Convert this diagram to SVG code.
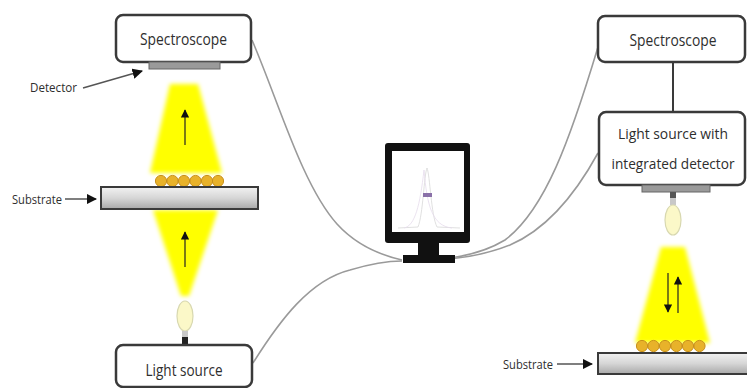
<svg xmlns="http://www.w3.org/2000/svg" width="747" height="388" viewBox="0 0 747 388">
  <style>
    .box { fill: #ffffff; stroke: #3a3a3a; stroke-width: 2.5; }
    .lbl { font-family: "Open Sans", "Liberation Sans", sans-serif; fill: #2e2e2e; text-anchor: middle; font-size: 17px; }
    .lbl2 { font-family: "Open Sans", "Liberation Sans", sans-serif; fill: #2e2e2e; text-anchor: middle; font-size: 14.5px; }
    .side { font-family: "Open Sans", "Liberation Sans", sans-serif; fill: #2e2e2e; font-size: 13.5px; }
    .cable { fill: none; stroke: #9a9a9a; stroke-width: 1.6; }
    .link { fill: none; stroke: #3a3a3a; stroke-width: 2; }
    .ptr { fill: none; stroke: #555555; stroke-width: 1.5; }
    .beam { fill: #ffff00; filter: url(#soft); }
    .plate { fill: url(#plateGrad); stroke: #3a3a3a; stroke-width: 2; }
    .det { fill: #9a9a9a; stroke: #666666; stroke-width: 1; }
    .dot { fill: #e8b22a; stroke: #c8901a; stroke-width: 1; }
    .bulb { fill: #fbf8c8; stroke: #d8d8b0; stroke-width: 1.2; }
    .flow { stroke: #222222; stroke-width: 1.2; fill: none; }
  </style>
  <defs>
    <filter id="soft" x="-20%" y="-20%" width="140%" height="140%">
      <feGaussianBlur stdDeviation="2.2"/>
    </filter>
    <linearGradient id="plateGrad" x1="0" y1="0" x2="0" y2="1">
      <stop offset="0" stop-color="#f2f2f2"/>
      <stop offset="0.5" stop-color="#d6d6d6"/>
      <stop offset="1" stop-color="#a8a8a8"/>
    </linearGradient>
    <marker id="tip" viewBox="0 0 10 10" refX="9" refY="5" markerWidth="7" markerHeight="7" orient="auto">
      <path d="M0,0 L10,5 L0,10 z" fill="#111111"/>
    </marker>
  </defs>

  <!-- light beams -->
  <g id="beams">
    <polygon class="beam" points="170,84 198,84 222,173 150,173"/>
    <polygon class="beam" points="153,210 218,210 189,296 181,296"/>
    <polygon class="beam" points="661,247 685,247 710,343 635,343"/>
  </g>

  <!-- cables to the computer -->
  <g id="connectors">
    <path class="cable" d="M252,40 C278,100 302,185 337,224 C357,246 380,255 402,260"/>
    <path class="cable" d="M253,363 C280,320 310,280 350,270 C370,264 385,261 402,261"/>
    <path class="cable" d="M598,47 C570,140 545,210 505,240 C485,252 465,256 450,258"/>
    <path class="cable" d="M598,153 C575,195 545,230 510,245 C490,253 470,257 450,259"/>
    <line class="link" x1="673" y1="62" x2="673" y2="112"/>
  </g>

  <!-- left setup: transmission -->
  <g id="spectroscope-left">
    <rect class="box" x="116" y="15" width="135" height="47" rx="7"/>
    <text class="lbl" x="183.5" y="45" textLength="87" lengthAdjust="spacingAndGlyphs">Spectroscope</text>
  </g>
  <g id="detector-left">
    <rect class="det" x="149" y="62" width="71" height="7"/>
    <text class="side" x="30" y="92" textLength="47" lengthAdjust="spacingAndGlyphs">Detector</text>
    <line class="ptr" x1="83" y1="88" x2="142" y2="71" marker-end="url(#tip)"/>
  </g>
  <g id="flow-left">
    <line class="flow" x1="185" y1="145" x2="185" y2="110" marker-end="url(#tip)"/>
    <line class="flow" x1="185" y1="267" x2="185" y2="232" marker-end="url(#tip)"/>
  </g>
  <g id="particles-left">
    <circle class="dot" cx="161" cy="181" r="5.6"/>
    <circle class="dot" cx="172.5" cy="181" r="5.6"/>
    <circle class="dot" cx="184" cy="181" r="5.6"/>
    <circle class="dot" cx="195.5" cy="181" r="5.6"/>
    <circle class="dot" cx="207" cy="181" r="5.6"/>
    <circle class="dot" cx="218" cy="181" r="5.6"/>
  </g>
  <g id="substrate-left">
    <rect class="plate" x="101" y="187" width="157" height="22"/>
    <text class="side" x="12" y="204" textLength="50" lengthAdjust="spacingAndGlyphs">Substrate</text>
    <line class="ptr" x1="65" y1="199" x2="96" y2="199" marker-end="url(#tip)"/>
  </g>
  <g id="bulb-left">
    <ellipse class="bulb" cx="185" cy="316" rx="8" ry="15"/>
    <rect x="182" y="331" width="6" height="6" fill="#c8c8c8"/>
    <rect x="182" y="337" width="6" height="8" fill="#222222"/>
  </g>
  <g id="light-source">
    <rect class="box" x="116" y="345" width="136" height="42" rx="7"/>
    <text class="lbl" x="184" y="376" textLength="77" lengthAdjust="spacingAndGlyphs">Light source</text>
  </g>

  <!-- computer -->
  <g id="computer">
    <rect x="385" y="143" width="85" height="100" rx="3" fill="#111111"/>
    <rect x="392" y="151" width="72" height="81" fill="#ffffff"/>
    <rect x="418" y="242" width="21" height="14" fill="#111111"/>
    <rect x="403" y="255" width="52" height="8" fill="#111111"/>
    <path d="M398,228 L418,227 C423,215 424,175 427,168 C430,175 431,215 437,227 L460,228" fill="none" stroke="#d8d8d8" stroke-width="0.8"/>
    <path d="M404,228 C415,226 420,205 424,170 C427,205 432,226 452,228" fill="none" stroke="#e6dcec" stroke-width="0.8"/>
    <rect x="423" y="193" width="9" height="4" fill="#8a70a8"/>
  </g>

  <!-- right setup: reflection -->
  <g id="spectroscope-right">
    <rect class="box" x="598" y="16" width="147" height="46" rx="7"/>
    <text class="lbl" x="673" y="46" textLength="87" lengthAdjust="spacingAndGlyphs">Spectroscope</text>
  </g>
  <g id="light-source-detector">
    <rect class="box" x="599" y="112" width="146" height="73" rx="7"/>
    <text class="lbl2" x="673" y="139" textLength="110" lengthAdjust="spacingAndGlyphs">Light source with</text>
    <text class="lbl2" x="673" y="169" textLength="123" lengthAdjust="spacingAndGlyphs">integrated detector</text>
    <rect class="det" x="642" y="185" width="68" height="7"/>
  </g>
  <g id="bulb-right">
    <rect x="670" y="192" width="6" height="6" fill="#555555"/>
    <rect x="670" y="198" width="6" height="7" fill="#c8c8c8"/>
    <ellipse class="bulb" cx="673" cy="220" rx="8" ry="15"/>
  </g>
  <g id="flow-right">
    <line class="flow" x1="668" y1="273" x2="668" y2="312" marker-end="url(#tip)"/>
    <line class="flow" x1="678" y1="313" x2="678" y2="277" marker-end="url(#tip)"/>
  </g>
  <g id="particles-right">
    <circle class="dot" cx="642" cy="346" r="5.6"/>
    <circle class="dot" cx="653.5" cy="346" r="5.6"/>
    <circle class="dot" cx="665" cy="346" r="5.6"/>
    <circle class="dot" cx="676.5" cy="346" r="5.6"/>
    <circle class="dot" cx="688" cy="346" r="5.6"/>
    <circle class="dot" cx="699.5" cy="346" r="5.6"/>
  </g>
  <g id="substrate-right">
    <rect class="plate" x="598" y="353" width="152" height="21"/>
    <text class="side" x="503" y="369" textLength="50" lengthAdjust="spacingAndGlyphs">Substrate</text>
    <line class="ptr" x1="557" y1="364" x2="592" y2="364" marker-end="url(#tip)"/>
  </g>
</svg>
